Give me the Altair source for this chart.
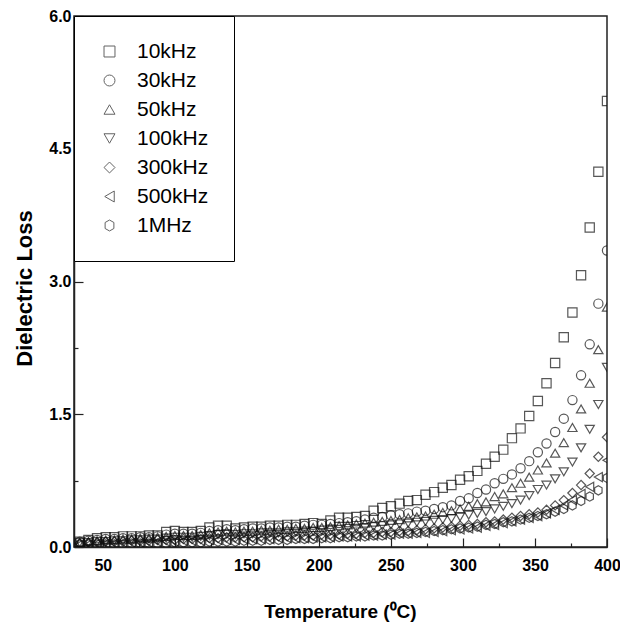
import altair as alt
import pandas as pd

temps = [34, 40, 46, 52, 58, 64, 70, 76, 82, 88,
         94, 100, 106, 112, 118, 124, 130, 136, 142, 148,
         154, 160, 166, 172, 178, 184, 190, 196, 202, 208,
         214, 220, 226, 232, 238, 244, 250, 256, 262, 268,
         274, 280, 286, 292, 298, 304, 310, 316, 322, 328,
         334, 340, 346, 352, 358, 364, 370, 376, 382, 388,
         394, 400]

labels = ["10kHz", "30kHz", "50kHz", "100kHz", "300kHz", "500kHz", "1MHz"]

loss_10k = [0.06, 0.08, 0.10, 0.11, 0.11, 0.12, 0.12, 0.12, 0.13, 0.13,
            0.17, 0.18, 0.17, 0.17, 0.18, 0.22, 0.24, 0.24, 0.21, 0.22,
            0.23, 0.23, 0.24, 0.24, 0.25, 0.25, 0.26, 0.27, 0.26, 0.30,
            0.33, 0.33, 0.34, 0.35, 0.41, 0.44, 0.46, 0.49, 0.52, 0.53,
            0.59, 0.62, 0.67, 0.70, 0.76, 0.80, 0.86, 0.94, 1.02, 1.10,
            1.23, 1.34, 1.48, 1.65, 1.85, 2.08, 2.37, 2.65, 3.07, 3.61,
            4.24, 5.04]

loss_30k = [0.06, 0.07, 0.08, 0.09, 0.09, 0.10, 0.10, 0.11, 0.11, 0.12,
            0.14, 0.15, 0.15, 0.15, 0.16, 0.18, 0.19, 0.20, 0.19, 0.20,
            0.21, 0.21, 0.22, 0.22, 0.23, 0.23, 0.24, 0.25, 0.25, 0.26,
            0.27, 0.28, 0.29, 0.31, 0.33, 0.34, 0.36, 0.37, 0.38, 0.40,
            0.41, 0.43, 0.45, 0.47, 0.52, 0.55, 0.61, 0.65, 0.72, 0.77,
            0.82, 0.89, 0.97, 1.07, 1.17, 1.30, 1.45, 1.66, 1.94, 2.29,
            2.75, 3.35]

loss_50k = [0.05, 0.06, 0.07, 0.08, 0.08, 0.09, 0.09, 0.10, 0.10, 0.11,
            0.12, 0.13, 0.13, 0.13, 0.14, 0.16, 0.17, 0.18, 0.17, 0.18,
            0.18, 0.19, 0.19, 0.20, 0.20, 0.21, 0.21, 0.22, 0.22, 0.23,
            0.24, 0.25, 0.26, 0.27, 0.28, 0.29, 0.30, 0.31, 0.33, 0.34,
            0.35, 0.37, 0.39, 0.41, 0.43, 0.46, 0.49, 0.51, 0.57, 0.60,
            0.67, 0.72, 0.79, 0.87, 0.95, 1.06, 1.18, 1.35, 1.56, 1.85,
            2.23, 2.71]

loss_100k = [0.05, 0.05, 0.06, 0.06, 0.07, 0.07, 0.08, 0.08, 0.09, 0.09,
             0.10, 0.11, 0.11, 0.11, 0.12, 0.13, 0.14, 0.15, 0.14, 0.15,
             0.15, 0.16, 0.16, 0.16, 0.17, 0.17, 0.18, 0.18, 0.19, 0.19,
             0.20, 0.21, 0.21, 0.22, 0.23, 0.24, 0.25, 0.26, 0.27, 0.28,
             0.29, 0.30, 0.31, 0.32, 0.34, 0.36, 0.38, 0.40, 0.43, 0.46,
             0.49, 0.53, 0.58, 0.65, 0.70, 0.77, 0.85, 0.96, 1.12, 1.33,
             1.61, 2.03]

loss_300k = [0.04, 0.05, 0.05, 0.06, 0.06, 0.06, 0.07, 0.07, 0.07, 0.08,
             0.08, 0.08, 0.09, 0.09, 0.09, 0.10, 0.10, 0.11, 0.11, 0.11,
             0.11, 0.12, 0.12, 0.12, 0.12, 0.13, 0.13, 0.13, 0.14, 0.14,
             0.14, 0.15, 0.15, 0.16, 0.16, 0.17, 0.17, 0.18, 0.18, 0.19,
             0.20, 0.21, 0.22, 0.23, 0.24, 0.25, 0.26, 0.28, 0.29, 0.31,
             0.33, 0.35, 0.37, 0.39, 0.42, 0.47, 0.53, 0.61, 0.70, 0.83,
             1.02, 1.24]

loss_500k = [0.03, 0.03, 0.04, 0.04, 0.04, 0.05, 0.05, 0.05, 0.05, 0.06,
             0.06, 0.06, 0.07, 0.07, 0.07, 0.08, 0.08, 0.08, 0.08, 0.09,
             0.09, 0.09, 0.09, 0.10, 0.10, 0.10, 0.10, 0.11, 0.11, 0.11,
             0.12, 0.12, 0.12, 0.13, 0.13, 0.14, 0.14, 0.15, 0.15, 0.16,
             0.16, 0.17, 0.18, 0.19, 0.20, 0.21, 0.22, 0.24, 0.25, 0.27,
             0.29, 0.31, 0.33, 0.35, 0.38, 0.42, 0.47, 0.53, 0.60, 0.68,
             0.79, 0.98]

loss_1m = [0.03, 0.03, 0.03, 0.03, 0.03, 0.03, 0.04, 0.04, 0.04, 0.04,
           0.04, 0.05, 0.05, 0.05, 0.05, 0.06, 0.06, 0.06, 0.06, 0.07,
           0.07, 0.07, 0.08, 0.08, 0.08, 0.09, 0.09, 0.09, 0.10, 0.10,
           0.11, 0.11, 0.12, 0.12, 0.13, 0.13, 0.14, 0.15, 0.15, 0.16,
           0.17, 0.18, 0.19, 0.20, 0.21, 0.22, 0.23, 0.25, 0.26, 0.28,
           0.29, 0.31, 0.33, 0.35, 0.37, 0.40, 0.43, 0.47, 0.52, 0.57,
           0.64, 0.78]

x_major = [50, 100, 150, 200, 250, 300, 350, 400]
x_minor = [75, 125, 175, 225, 275, 325, 375]
y_major = [0, 1.5, 3, 4.5, 6]
y_minor = [0.75, 2.25, 3.75, 5.25]

series = [loss_10k, loss_30k, loss_50k, loss_100k, loss_300k, loss_500k, loss_1m]
rows = []
for lab, vals in zip(labels, series):
    for t, v in zip(temps, vals):
        rows.append({"T": t, "loss": v, "freq": lab})
df = pd.DataFrame(rows)

hexagon = "M0,-1L0.8,-0.55L0.8,0.55L0,1L-0.8,0.55L-0.8,-0.55Z"
shapes = ["square", "circle", "triangle-up", "triangle-down", "diamond",
          "triangle-left", hexagon]

FONT = "Liberation Sans"
xscale = alt.Scale(domain=[30, 400], nice=False, zero=False)
yscale = alt.Scale(domain=[0, 6], nice=False, zero=False)

points = alt.Chart(df).mark_point(
    filled=False, size=85, strokeWidth=1.2, color="#111", clip=True
).encode(
    x=alt.X("T:Q", scale=xscale, axis=alt.Axis(
        orient="bottom", values=x_major, ticks=False, grid=False,
        domainColor="#222", domainWidth=1.5,
        labelFont=FONT, labelFontWeight="bold", labelFontSize=16,
        labelColor="black", labelPadding=10, labelFlush=False,
        title="Temperature (\u2070C)", titleFont=FONT, titleFontWeight="bold",
        titleFontSize=19, titleColor="black", titleX=266, titleY=64,
        titleBaseline="middle", titleAlign="center")),
    y=alt.Y("loss:Q", scale=yscale, axis=alt.Axis(
        orient="left", values=y_major, format=".1f", ticks=False, grid=False,
        domainColor="#222", domainWidth=1.5,
        labelFont=FONT, labelFontWeight="bold", labelFontSize=16,
        labelColor="black", labelPadding=3, labelFlush=False,
        title="Dielectric Loss", titleFont=FONT, titleFontWeight="bold",
        titleFontSize=22, titleColor="black", titleX=-50, titleY=272,
        titleAngle=270, titleBaseline="middle", titleAlign="center")),
    shape=alt.Shape("freq:N", scale=alt.Scale(domain=labels, range=shapes),
                    legend=alt.Legend(
                        orient="none", legendX=0, legendY=0, title=None,
                        strokeColor="black", fillColor="white", padding=25,
                        labelFont=FONT, labelFontSize=21, labelColor="black",
                        labelOffset=17, rowPadding=7, symbolSize=120,
                        symbolStrokeWidth=1, symbolStrokeColor="#222")),
)

major = alt.Chart(df).mark_point(opacity=0).encode(
    x=alt.X("T:Q", scale=xscale, axis=alt.Axis(
        orient="bottom", values=x_major, offset=-9, tickSize=9, tickColor="#222",
        tickWidth=1.2, domain=False, labels=False, grid=False, title=None)),
    y=alt.Y("loss:Q", scale=yscale, axis=alt.Axis(
        orient="left", values=y_major, offset=-9, tickSize=9, tickColor="#222",
        tickWidth=1.2, domain=False, labels=False, grid=False, title=None)),
)

minor = alt.Chart(df).mark_point(opacity=0).encode(
    x=alt.X("T:Q", scale=xscale, axis=alt.Axis(
        orient="bottom", values=x_minor, offset=-4, tickSize=4, tickColor="#222",
        tickWidth=1.2, domain=False, labels=False, grid=False, title=None)),
    y=alt.Y("loss:Q", scale=yscale, axis=alt.Axis(
        orient="left", values=y_minor, offset=-4, tickSize=4, tickColor="#222",
        tickWidth=1.2, domain=False, labels=False, grid=False, title=None)),
)

chart = alt.layer(points, major, minor).resolve_axis(
    x="independent", y="independent"
).properties(
    width=533, height=531,
    padding={"left": 74, "top": 16, "right": 13, "bottom": 78},
    autosize=alt.AutoSizeParams(type="none"),
    background="white",
).configure_view(stroke="#222", strokeWidth=1.5)

chart.save("out.html", embed_options={"renderer": "svg", "actions": False})
